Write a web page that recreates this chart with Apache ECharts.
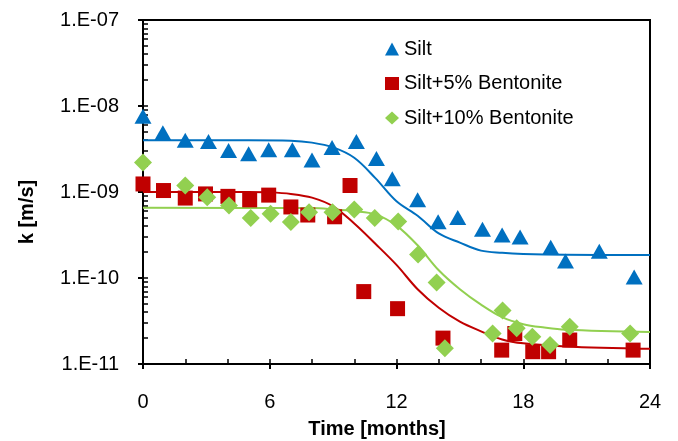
<!DOCTYPE html>
<html>
<head>
<meta charset="utf-8">
<script src="https://cdn.jsdelivr.net/npm/echarts@6/dist/echarts.min.js"></script>
<style>html,body{margin:0;padding:0;background:#fff}#c{width:678px;height:441px}</style>
</head>
<body>
<div id="c"></div>
<script>
// ---- data ----
var seriesNames = ['Silt', 'Silt+5% Bentonite', 'Silt+10% Bentonite'];
var xTicks = [0, 6, 12, 18, 24];
var yTickLabels = ['1.E-11', '1.E-10', '1.E-09', '1.E-08', '1.E-07'];

var siltMonths = [0, 0.94, 2.0, 3.1, 4.05, 5.0, 5.95, 7.07, 8.0, 8.95, 10.1, 11.05, 11.8, 13.0, 13.97, 14.9, 16.07, 17.0, 17.85, 19.3, 20.0, 21.6, 23.25];
var siltK = [7.6e-9, 4.87e-9, 4.0e-9, 3.86e-9, 3.03e-9, 2.78e-9, 3.09e-9, 3.09e-9, 2.35e-9, 3.3e-9, 3.87e-9, 2.45e-9, 1.43e-9, 8.15e-10, 4.5e-10, 5.05e-10, 3.7e-10, 3.17e-10, 3.0e-10, 2.28e-10, 1.58e-10, 2.04e-10, 1.03e-10];

var b5Months = [0, 0.97, 2.0, 2.96, 4.02, 5.05, 5.95, 7.0, 7.8, 9.07, 9.8, 10.45, 12.05, 14.2, 16.98, 17.6, 18.45, 19.2, 20.2, 23.2];
var b5K = [1.24e-9, 1.04e-9, 8.5e-10, 9.5e-10, 8.9e-10, 8.1e-10, 9.2e-10, 6.7e-10, 5.4e-10, 5.15e-10, 1.19e-9, 6.95e-11, 4.4e-11, 2.0e-11, 1.45e-11, 2.26e-11, 1.39e-11, 1.39e-11, 1.9e-11, 1.45e-11];

var b10Months = [0, 2.0, 3.04, 4.07, 5.1, 6.04, 7.0, 7.86, 8.97, 10.0, 10.97, 12.08, 13.02, 13.9, 14.29, 16.55, 17.02, 17.69, 18.43, 19.27, 20.2, 23.06];
var b10K = [2.2e-9, 1.19e-9, 8.7e-10, 6.97e-10, 5.0e-10, 5.57e-10, 4.47e-10, 5.83e-10, 5.83e-10, 6.25e-10, 5.0e-10, 4.54e-10, 1.87e-10, 8.85e-11, 1.52e-11, 2.27e-11, 4.2e-11, 2.6e-11, 2.07e-11, 1.66e-11, 2.71e-11, 2.27e-11];

// fitted curves
var siltFitMonths = [0, 5, 7, 8, 9, 10, 11, 12, 13, 14, 15, 16, 17, 18, 20, 24];
var siltFitK = [4.0e-9, 4.0e-9, 3.95e-9, 3.75e-9, 3.3e-9, 2.5e-9, 1.45e-9, 7.8e-10, 5.3e-10, 3.3e-10, 2.58e-10, 2.08e-10, 1.96e-10, 1.9e-10, 1.86e-10, 1.85e-10];

var b5FitMonths = [0, 5, 6, 7, 8, 9, 10, 11, 12, 13, 14, 15, 16, 17, 18, 20, 24];
var b5FitK = [1.0e-9, 1.0e-9, 9.9e-10, 9.5e-10, 8.6e-10, 6.8e-10, 4.3e-10, 2.5e-10, 1.42e-10, 7.4e-11, 4.5e-11, 3.1e-11, 2.4e-11, 1.93e-11, 1.74e-11, 1.6e-11, 1.5e-11];

var b10FitMonths = [0, 8, 9, 10, 11, 12, 13, 14, 15, 16, 17, 18, 19, 20, 24];
var b10FitK = [6.55e-10, 6.5e-10, 6.3e-10, 6.0e-10, 5.5e-10, 4.07e-10, 2.4e-10, 1.23e-10, 7.4e-11, 4.9e-11, 3.5e-11, 2.9e-11, 2.65e-11, 2.5e-11, 2.35e-11];

var colors = ['#0070C0', '#C00000', '#92D050'];

function zip(a, b) { return a.map(function (v, i) { return [v, b[i]]; }); }

// minor tick positions on log axis (log10 space)
var yMinor = [];
for (var d = -11; d < -7; d++) { for (var m = 1; m < 10; m++) { yMinor.push(d + Math.log10(m)); } }
yMinor.push(-7);

var FONT = 'Arial, "Liberation Sans", sans-serif';

var chart = echarts.init(document.getElementById('c'));
chart.setOption({
  animation: false,
  backgroundColor: '#fff',
  grid: { left: 143, right: 28, top: 20, bottom: 77, show: true, borderColor: '#000', borderWidth: 2, backgroundColor: 'transparent' },
  legend: {
    data: seriesNames,
    orient: 'vertical',
    left: 380,
    top: 34,
    itemWidth: 14,
    itemHeight: 13,
    itemGap: 14.5,
    textStyle: { fontFamily: FONT, fontSize: 20, color: '#000', lineHeight: 20 }
  },
  xAxis: [
    {
      type: 'value', min: 0, max: 24, interval: 6, position: 'bottom',
      axisLine: { show: true, lineStyle: { color: '#000', width: 2 } },
      axisTick: { show: true, inside: false, length: 5, lineStyle: { color: '#000', width: 2 } },
      axisLabel: { fontFamily: FONT, fontSize: 20, color: '#000', margin: 28, customValues: xTicks },
      splitLine: { show: false }
    },
    {
      type: 'value', min: 0, max: 24, interval: 2, position: 'bottom', offset: 0,
      axisLine: { show: false },
      axisTick: { show: true, inside: true, length: 5, lineStyle: { color: '#000', width: 1.5 } },
      axisLabel: { show: false },
      splitLine: { show: false }
    }
  ],
  yAxis: [
    {
      type: 'log', logBase: 10, min: 1e-11, max: 1e-7, position: 'left',
      axisLine: { show: true, lineStyle: { color: '#000', width: 2 } },
      axisTick: { show: true, inside: false, length: 5, lineStyle: { color: '#000', width: 2 } },
      axisLabel: {
        fontFamily: FONT, fontSize: 20, color: '#000', margin: 24,
        formatter: function (v) {
          var e = Math.round(Math.log10(v));
          return yTickLabels[e + 11];
        }
      },
      splitLine: { show: false }
    },
    {
      type: 'value', min: -11, max: -7, position: 'left', offset: 0,
      axisLine: { show: false },
      axisTick: { show: true, inside: true, length: 5, customValues: yMinor, lineStyle: { color: '#000', width: 1.5 } },
      axisLabel: { show: false },
      splitLine: { show: false }
    }
  ],
  graphic: [
    { type: 'text', x: 377, y: 429, style: { text: 'Time [months]', font: 'bold 20px ' + FONT, fill: '#000', align: 'center', verticalAlign: 'middle' } },
    { type: 'text', x: 27, y: 212, rotation: Math.PI / 2, style: { text: 'k [m/s]', font: 'bold 20px ' + FONT, fill: '#000', align: 'center', verticalAlign: 'middle' } }
  ],
  series: [
    { name: 'fit0', type: 'line', smooth: 0.35, showSymbol: false, data: zip(siltFitMonths, siltFitK), lineStyle: { color: colors[0], width: 2 }, itemStyle: { color: colors[0] }, z: 2 },
    { name: 'fit1', type: 'line', smooth: 0.35, showSymbol: false, data: zip(b5FitMonths, b5FitK), lineStyle: { color: colors[1], width: 2 }, itemStyle: { color: colors[1] }, z: 2 },
    { name: 'fit2', type: 'line', smooth: 0.35, showSymbol: false, data: zip(b10FitMonths, b10FitK), lineStyle: { color: colors[2], width: 2 }, itemStyle: { color: colors[2] }, z: 2 },
    { name: seriesNames[0], type: 'scatter', symbol: 'triangle', symbolSize: [17, 15], data: zip(siltMonths, siltK), itemStyle: { color: colors[0], opacity: 1 }, z: 3 },
    { name: seriesNames[1], type: 'scatter', symbol: 'rect', symbolSize: 15, data: zip(b5Months, b5K), itemStyle: { color: colors[1], opacity: 1 }, z: 3 },
    { name: seriesNames[2], type: 'scatter', symbol: 'diamond', symbolSize: 18, data: zip(b10Months, b10K), itemStyle: { color: colors[2], opacity: 1 }, z: 3 }
  ]
});
</script>
</body>
</html>
